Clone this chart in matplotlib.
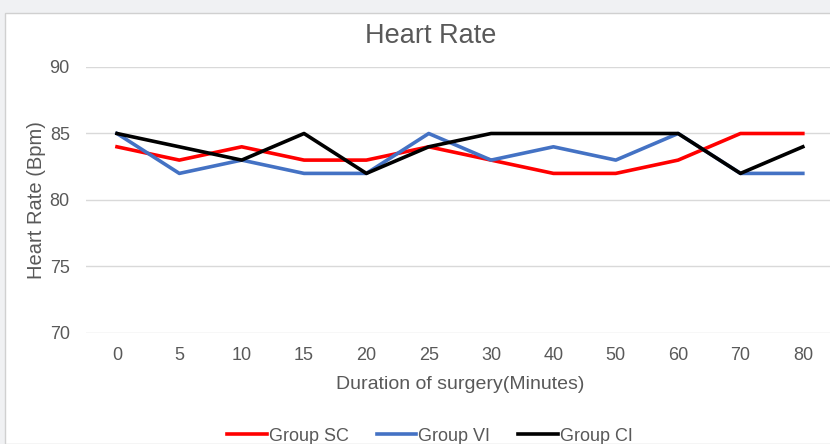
from matplotlib import pyplot as plt
from matplotlib.patches import Rectangle

# data
minutes = ["0", "5", "10", "15", "20", "25", "30", "40", "50", "60", "70", "80"]
group_sc = [84, 83, 84, 83, 83, 84, 83, 82, 82, 83, 85, 85]
group_vi = [85, 82, 83, 82, 82, 85, 83, 84, 83, 85, 82, 82]
group_ci = [85, 84, 83, 85, 82, 84, 85, 85, 85, 85, 82, 84]

plt.rcParams['font.family'] = ['Liberation Sans', 'DejaVu Sans']
txt = '#595959'

fig = plt.figure(figsize=(8.3, 4.44), dpi=100, facecolor='#f0f1f3')
# white chart panel
fig.patches.append(Rectangle((5/830, 0), 1, 1 - 13/444, transform=fig.transFigure,
                             facecolor='white', edgecolor='#d0d0d0', lw=1, zorder=-10))

ax = fig.add_axes([85.8/830, 1 - 333/444, 748.2/830, 266/444])
ax.set_facecolor('none')
x = range(len(minutes))
ax.plot(x, group_sc, color='#ff0000', lw=2.6, label='Group SC')
ax.plot(x, group_vi, color='#4472c4', lw=2.6, label='Group VI')
ax.plot(x, group_ci, color='#000000', lw=2.6, label='Group CI')

ax.set_xlim(-0.5, len(minutes) - 0.5)
ax.set_ylim(70, 90)
ax.set_yticks([70, 75, 80, 85, 90])
ax.set_xticks(list(x))
ax.set_xticklabels(minutes)
ax.grid(axis='y', color='#d9d9d9', lw=1)
ax.set_axisbelow(True)
for s in ax.spines.values():
    s.set_visible(False)
ax.tick_params(length=0, labelsize=13, colors=txt)
ax.tick_params(axis='y', pad=11.5)
ax.tick_params(axis='x', pad=10)

ax.set_xlabel("Duration of surgery(Minutes)", fontsize=14, color=txt, labelpad=8.5)
ax.set_ylabel("Heart Rate (Bpm)", fontsize=14.5, color=txt, labelpad=2.5)
fig.text(431/830, 1 - 36/444, "Heart Rate", ha='center', va='center', fontsize=19.5, color=txt)

fig.legend(loc='center', bbox_to_anchor=(430/830, 1 - 436/444), ncol=3, frameon=False,
           fontsize=13, handlelength=2.2, handletextpad=0.1, columnspacing=1.55,
           labelcolor=txt)

plt.savefig("out.png", dpi=100, facecolor=fig.get_facecolor())
